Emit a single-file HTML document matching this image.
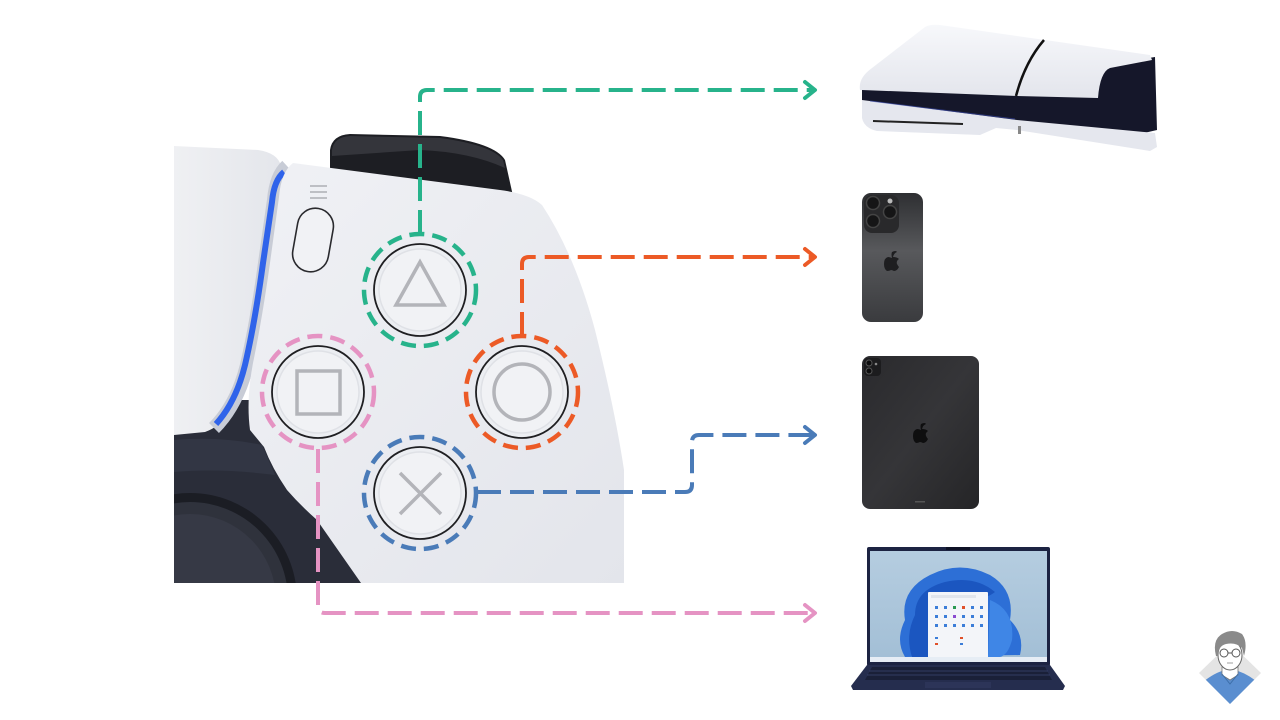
<!DOCTYPE html>
<html><head><meta charset="utf-8"><style>
html,body{margin:0;padding:0;background:#fff;}
body{width:1280px;height:720px;overflow:hidden;font-family:"Liberation Sans",sans-serif;}
svg{display:block;}
</style></head><body>
<svg width="1280" height="720" viewBox="0 0 1280 720" xmlns="http://www.w3.org/2000/svg">
<defs>
<clipPath id="photo"><rect x="174" y="128" width="450" height="455"/></clipPath>
<linearGradient id="bodyG" x1="0" y1="0" x2="1" y2="1">
<stop offset="0" stop-color="#f0f1f5"/><stop offset="1" stop-color="#e3e5eb"/></linearGradient>
<linearGradient id="leftG" x1="0" y1="0" x2="1" y2="0">
<stop offset="0" stop-color="#eff0f3"/><stop offset="1" stop-color="#e4e6eb"/></linearGradient>
<linearGradient id="phoneG" x1="0" y1="0" x2="0" y2="1">
<stop offset="0" stop-color="#2e2f32"/><stop offset="0.45" stop-color="#58595c"/><stop offset="1" stop-color="#3a3b3e"/></linearGradient>
<linearGradient id="padG" x1="0" y1="0" x2="1" y2="1">
<stop offset="0" stop-color="#2a2a2d"/><stop offset="0.5" stop-color="#353538"/><stop offset="1" stop-color="#252527"/></linearGradient>
<linearGradient id="scrG" x1="0" y1="0" x2="0" y2="1">
<stop offset="0" stop-color="#b5cde0"/><stop offset="1" stop-color="#a3bfd6"/></linearGradient>
<linearGradient id="ps5G" x1="0" y1="0" x2="0" y2="1">
<stop offset="0" stop-color="#f7f8fb"/><stop offset="1" stop-color="#e3e5ec"/></linearGradient>
<clipPath id="dia"><polygon points="1230,643 1261,673 1230,704 1199,673"/></clipPath>
</defs>

<!-- ===== Controller photo ===== -->
<g clip-path="url(#photo)">
  <rect x="174" y="128" width="450" height="455" fill="#ffffff"/>
  <!-- dark grip region -->
  <path d="M174,400 L300,400 L380,583 L174,583 Z" fill="#2a2d39"/>
  <path d="M174,440 Q220,436 262,445 L275,475 Q220,468 174,472 Z" fill="#323644"/>
  <!-- analog stick -->
  <circle cx="190" cy="600" r="107" fill="#1b1d24"/>
  <circle cx="190" cy="600" r="98" fill="#2f323c"/>
  <circle cx="190" cy="600" r="86" fill="#363945"/>
  <!-- trigger -->
  <path d="M330,196 L330,150 Q332,135 350,134 L440,136 Q495,143 505,160 L513,196 Z" fill="#1d1e23"/>
  <path d="M332,150 Q334,137 350,136 L440,138 Q492,145 503,160 L505,168 Q470,152 420,150 L332,156 Z" fill="#34353b"/>
  <!-- left touchpad piece -->
  <path d="M174,146 L258,150 Q278,153 281,166 L270,250 Q260,330 246,380 Q233,422 205,432 L174,435 Z" fill="url(#leftG)"/>
  <!-- light bar gap + blue -->
  <path d="M287,166 Q276,176 274,200 L265,263 Q257,322 247,365 Q237,405 214,428" fill="none" stroke="#c8ccd6" stroke-width="14"/>
  <path d="M284,172 Q274,180 272,202 L263,263 Q255,322 245,365 Q236,402 216,424" fill="none" stroke="#2f63ea" stroke-width="6"/>
  <!-- main body -->
  <path d="M293,163 L500,190 Q530,194 542,205 Q575,255 595,330 Q615,410 624,470 L624,583 L361,583 L317,520 Q300,505 287,490 Q272,468 264,447 L250,430 Q246,400 253,363 Q262,320 270,263 L279,197 Q281,172 293,163 Z" fill="url(#bodyG)"/>
  <!-- options button -->
  <g transform="rotate(10 313 240)">
    <rect x="295" y="208" width="36" height="64" rx="18" fill="#f1f2f5" stroke="#2a2a2e" stroke-width="1.6"/>
  </g>
  <g stroke="#b6b8be" stroke-width="1.8">
    <line x1="310" y1="186" x2="327" y2="186"/>
    <line x1="310" y1="192" x2="327" y2="192"/>
    <line x1="310" y1="198" x2="327" y2="198"/>
  </g>
</g>

<!-- face buttons -->
<g>
  <g>
    <circle cx="420" cy="290" r="46" fill="#eceef2" stroke="#1f1f22" stroke-width="1.8"/>
    <circle cx="420" cy="290" r="41" fill="#f1f2f5" stroke="#dfe1e6" stroke-width="1.5"/>
    <polygon points="420,262 396,305 444,305" fill="none" stroke="#b3b4b9" stroke-width="3.5"/>
  </g>
  <g>
    <circle cx="318" cy="392" r="46" fill="#eceef2" stroke="#1f1f22" stroke-width="1.8"/>
    <circle cx="318" cy="392" r="41" fill="#f1f2f5" stroke="#dfe1e6" stroke-width="1.5"/>
    <rect x="297" y="371" width="43" height="43" fill="none" stroke="#b3b4b9" stroke-width="3.5"/>
  </g>
  <g>
    <circle cx="522" cy="392" r="46" fill="#eceef2" stroke="#1f1f22" stroke-width="1.8"/>
    <circle cx="522" cy="392" r="41" fill="#f1f2f5" stroke="#dfe1e6" stroke-width="1.5"/>
    <circle cx="522" cy="392" r="28" fill="none" stroke="#b3b4b9" stroke-width="3.5"/>
  </g>
  <g>
    <circle cx="420" cy="493" r="46" fill="#eceef2" stroke="#1f1f22" stroke-width="1.8"/>
    <circle cx="420" cy="493" r="41" fill="#f1f2f5" stroke="#dfe1e6" stroke-width="1.5"/>
    <line x1="400" y1="473" x2="441" y2="514" stroke="#b3b4b9" stroke-width="3.5"/>
    <line x1="441" y1="473" x2="400" y2="514" stroke="#b3b4b9" stroke-width="3.5"/>
  </g>
</g>

<!-- dashed rings -->
<g fill="none" stroke-width="4.5" stroke-dasharray="15 8">
  <circle cx="420" cy="290" r="56" stroke="#27b38b"/>
  <circle cx="318" cy="392" r="56" stroke="#e593c3"/>
  <circle cx="522" cy="392" r="56" stroke="#ec5a26"/>
  <circle cx="420" cy="493" r="56" stroke="#4a7bb8"/>
</g>

<!-- connectors -->
<g fill="none" stroke-width="4" stroke-dasharray="24 9">
  <path d="M420,234 L420,97 Q420,90 427,90 L812,90" stroke="#27b38b"/>
  <path d="M522,336 L522,264 Q522,257 529,257 L812,257" stroke="#ec5a26"/>
  <path d="M477,492 L685,492 Q692,492 692,485 L692,442 Q692,435 699,435 L812,435" stroke="#4a7bb8"/>
  <path d="M318,449 L318,606 Q318,613 325,613 L812,613" stroke="#e593c3"/>
</g>
<g fill="none" stroke-width="4" stroke-linecap="round" stroke-linejoin="round">
  <path d="M805,82 L815,90 L805,98" stroke="#27b38b"/>
  <path d="M805,249 L815,257 L805,265" stroke="#ec5a26"/>
  <path d="M805,427 L815,435 L805,443" stroke="#4a7bb8"/>
  <path d="M805,605 L815,613 L805,621" stroke="#e593c3"/>
</g>

<!-- ===== PS5 ===== -->
<g>
  <polygon points="862,88 1110,64 1155,57 1157,130 1118,139 862,103" fill="#15172a"/>
  <path d="M860,90 Q858,78 872,68 L925,27 Q930,24 940,25 L1150,55 L1152,60 L1110,68 Q1100,72 1098,98 L1017,96 L862,90 Z" fill="url(#ps5G)"/>
  <path d="M1044,40 Q1025,62 1016,96" fill="none" stroke="#111" stroke-width="2.5"/>
  <path d="M862,100 L1017,120 L1155,133 L1157,147 L1150,151 L1017,130 L996,128 L980,135 L877,131 Q864,128 862,118 Z" fill="#e5e7ee"/>
  <line x1="873" y1="121" x2="963" y2="124" stroke="#222" stroke-width="2"/>
  <line x1="870" y1="101" x2="1015" y2="119" stroke="#3a4bb0" stroke-width="1" opacity="0.6"/>
  <rect x="1018" y="126" width="3" height="8" fill="#888"/>
</g>

<!-- ===== iPhone ===== -->
<g>
  <rect x="862" y="193" width="61" height="129" rx="9" fill="url(#phoneG)"/>
  <rect x="864" y="195" width="35" height="38" rx="8" fill="#29292b"/>
  <circle cx="873" cy="203" r="6.5" fill="#151516" stroke="#444" stroke-width="1.5"/>
  <circle cx="890" cy="212" r="6.5" fill="#151516" stroke="#444" stroke-width="1.5"/>
  <circle cx="873" cy="221" r="6.5" fill="#151516" stroke="#444" stroke-width="1.5"/>
  <circle cx="890" cy="201" r="2.5" fill="#bbb"/>
  <path d="M892,252 Q896,250 897,252 Q894,253 893,257 Q897,257 899,259 Q896,261 897,264 Q898,266 899,267 Q897,271 894,271 Q892,270 891,270 Q889,271 887,271 Q884,269 884,264 Q884,258 888,257 Q890,257 892,258 Q891,254 892,252 Z" fill="#1e1e20"/>
</g>

<!-- ===== iPad ===== -->
<g>
  <rect x="862" y="356" width="117" height="153" rx="8" fill="url(#padG)"/>
  <rect x="864" y="358" width="17" height="18" rx="4" fill="#1c1c1e"/>
  <circle cx="869" cy="363" r="3" fill="#0c0c0d" stroke="#555" stroke-width="1"/>
  <circle cx="869" cy="371" r="3" fill="#0c0c0d" stroke="#555" stroke-width="1"/>
  <circle cx="876" cy="364" r="1.3" fill="#888"/>
  <path d="M921,424 Q925,422 926,424 Q923,425 922,429 Q926,429 928,431 Q925,433 926,436 Q927,438 928,439 Q926,443 923,443 Q921,442 920,442 Q918,443 916,443 Q913,441 913,436 Q913,430 917,429 Q919,429 921,430 Q920,426 921,424 Z" fill="#0e0e0f"/>
  <rect x="915" y="501" width="10" height="1.5" fill="#555"/>
</g>

<!-- ===== Laptop ===== -->
<g>
  <rect x="867" y="547" width="183" height="119" rx="2" fill="#1c2342"/>
  <rect x="870" y="551" width="177" height="106" fill="url(#scrG)"/>
  <rect x="946" y="547" width="24" height="3" fill="#0e1226"/>
  <path d="M905,620 Q900,590 930,575 Q960,560 990,575 Q1015,590 1010,620 Q1025,635 1020,655 L905,657 Q895,640 905,620 Z" fill="#2d6fd6"/>
  <path d="M915,615 Q915,590 945,582 Q975,575 995,592 Q985,600 970,598 Q950,600 940,620 Q930,640 935,657 L912,657 Q905,635 915,615 Z" fill="#1b56c0"/>
  <path d="M990,600 Q1015,610 1012,640 Q1008,655 1000,657 L988,657 Z" fill="#3f86e6"/>
  <rect x="928" y="592" width="60" height="66" rx="1" fill="#f3f5f9"/>
  <rect x="931" y="595" width="45" height="3" fill="#e1e5ec"/>
  <g fill="#3b7dd8">
    <rect x="935" y="606" width="3" height="3"/><rect x="944" y="606" width="3" height="3"/><rect x="953" y="606" width="3" height="3" fill="#2a9a52"/><rect x="962" y="606" width="3" height="3" fill="#e0502a"/><rect x="971" y="606" width="3" height="3"/><rect x="980" y="606" width="3" height="3"/>
    <rect x="935" y="615" width="3" height="3"/><rect x="944" y="615" width="3" height="3"/><rect x="953" y="615" width="3" height="3" fill="#8a4bd0"/><rect x="962" y="615" width="3" height="3"/><rect x="971" y="615" width="3" height="3"/><rect x="980" y="615" width="3" height="3"/>
    <rect x="935" y="624" width="3" height="3"/><rect x="944" y="624" width="3" height="3"/><rect x="953" y="624" width="3" height="3"/><rect x="962" y="624" width="3" height="3"/><rect x="971" y="624" width="3" height="3"/><rect x="980" y="624" width="3" height="3"/>
    <rect x="935" y="637" width="3" height="2"/><rect x="960" y="637" width="3" height="2" fill="#e0502a"/>
    <rect x="935" y="643" width="3" height="2" fill="#e0502a"/><rect x="960" y="643" width="3" height="2"/>
  </g>
  <rect x="870" y="657" width="177" height="5" fill="#e6edf5"/>
  <path d="M867,665 L1050,665 L1065,686 L1063,690 L853,690 L851,686 Z" fill="#252d4e"/>
  <path d="M872,667 L1045,667 L1052,680 L865,680 Z" fill="#1a2038"/>
  <g stroke="#3a4570" stroke-width="0.8">
    <line x1="869" y1="671" x2="1048" y2="671"/><line x1="867" y1="675" x2="1050" y2="675"/>
  </g>
  <rect x="925" y="682" width="66" height="6" fill="#2c3458"/>
</g>

<!-- ===== Avatar ===== -->
<g>
  <polygon points="1230,643 1261,673 1230,704 1199,673" fill="#e4e4e4"/>
  <g clip-path="url(#dia)">
    <path d="M1198,686 Q1212,674 1222,671 L1238,671 Q1250,675 1262,686 L1262,710 L1198,710 Z" fill="#5a8ed0"/>
  </g>
  <path d="M1222,667 L1222,675 L1230,680 L1238,675 L1238,667 Z" fill="#fff" stroke="#777" stroke-width="0.8"/>
  <path d="M1222,674 L1230,684 L1238,674" fill="none" stroke="#3d6ea8" stroke-width="1"/>
  <ellipse cx="1230" cy="655" rx="12" ry="15" fill="#fff" stroke="#666" stroke-width="1"/>
  <path d="M1216,656 Q1212,640 1222,634 Q1232,628 1242,634 Q1248,642 1244,656 L1242,648 Q1236,642 1226,644 Q1218,646 1218,656 Z" fill="#8a8a8a"/>
  <circle cx="1224" cy="653" r="4" fill="none" stroke="#555" stroke-width="1"/>
  <circle cx="1236" cy="653" r="4" fill="none" stroke="#555" stroke-width="1"/>
  <line x1="1228" y1="653" x2="1232" y2="653" stroke="#555" stroke-width="1"/>
  <line x1="1227" y1="663" x2="1233" y2="663" stroke="#888" stroke-width="0.8"/>
</g>
</svg>
</body></html>
